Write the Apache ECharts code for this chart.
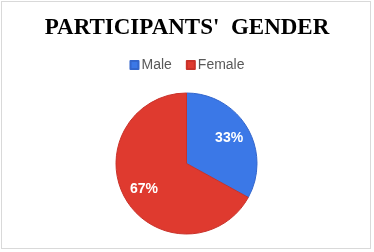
<!DOCTYPE html>
<html><head><meta charset="utf-8">
<script src="https://cdn.jsdelivr.net/npm/echarts@6/dist/echarts.min.js"></script>
<style>
html,body{margin:0;padding:0;background:#fff;}
#frame{position:absolute;left:1px;top:1px;width:370px;height:248px;border:1px solid #d9d9d9;box-sizing:border-box;}
#c{position:absolute;left:0;top:0;width:374px;height:252px;}
</style></head>
<body><div id="frame"></div><div id="c"></div>
<script>
const categories = ['Male', 'Female'];
const values = [33, 67];
const colors = ['#3b78e7', '#df3a2f'];
const borders = ['#3366cc', '#c9322a'];

const chart = echarts.init(document.getElementById('c'), null, {renderer: 'canvas'});
const center = [186.5, 163.5];
chart.setOption({
  animation: false,
  title: {
    text: "PARTICIPANTS'  GENDER",
    left: 'center', top: 12,
    textStyle: {fontFamily: 'Liberation Serif', fontWeight: 'bold', fontSize: 23, color: '#000'}
  },
  legend: {
    data: categories, top: 53, left: 'center',
    icon: 'rect', itemWidth: 8, itemHeight: 8, itemGap: 14,
    textStyle: {fontFamily: 'Liberation Sans', fontSize: 14, color: '#595959', padding: [0,0,0,-2]}
  },
  series: [
    {
      type: 'pie', center: center, radius: [0, 70.5], startAngle: 90, clockwise: true,
      silent: true,
      label: {show: false}, labelLine: {show: false},
      data: categories.map((n, i) => ({name: n, value: values[i],
        itemStyle: {color: colors[i], borderColor: borders[i], borderWidth: 1}}))
    },
    {
      type: 'pie', center: center, radius: [0, 93], startAngle: 90, clockwise: true,
      silent: true, z: 5,
      itemStyle: {color: 'rgba(0,0,0,0)'},
      label: {show: true, position: 'inside', formatter: p => p.value + '%',
        fontFamily: 'Liberation Sans', fontWeight: 'bold', fontSize: 14, color: '#fff'},
      labelLine: {show: false},
      data: categories.map((n, i) => ({name: n, value: values[i], itemStyle: {color: 'rgba(0,0,0,0)'}}))
    }
  ]
});
</script></body></html>
